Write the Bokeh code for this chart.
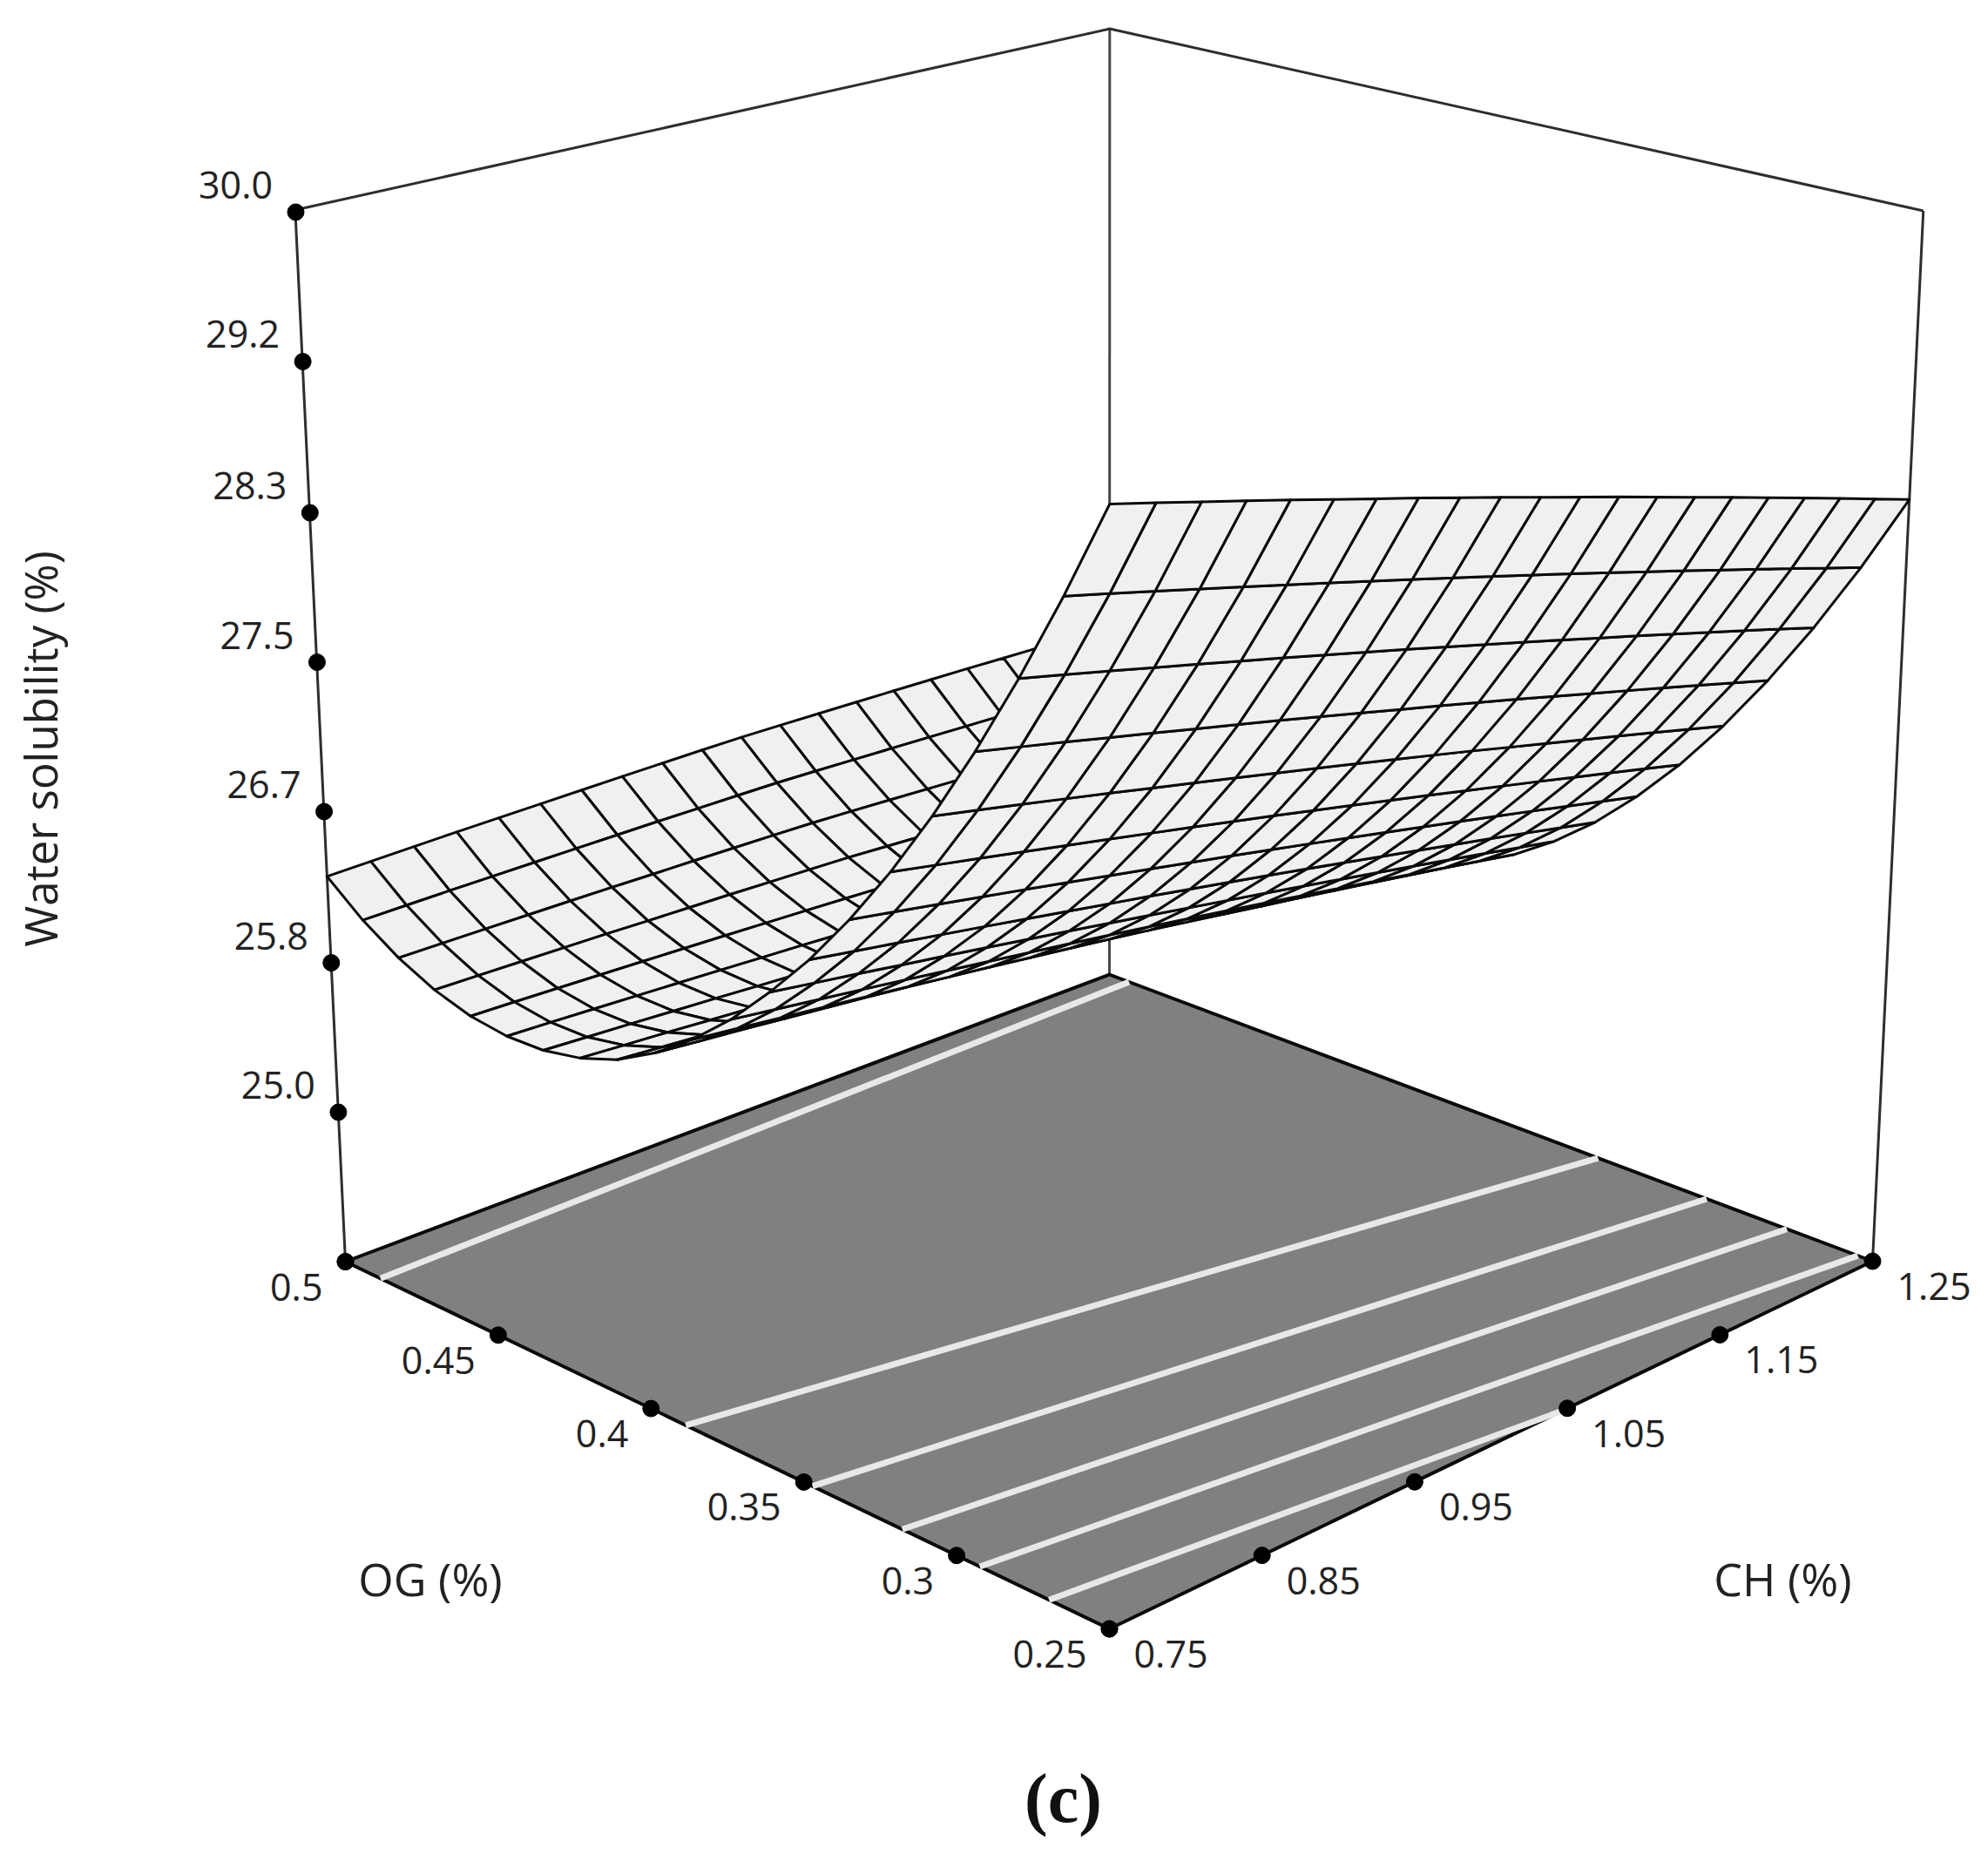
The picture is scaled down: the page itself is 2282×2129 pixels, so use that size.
import numpy as np
from bokeh.plotting import figure
from bokeh.embed import file_html
from bokeh.resources import INLINE
from bokeh.core.properties import value

# ---------- axis values ----------
ch_grid = [0.75 + 0.025 * i for i in range(21)]
og_grid = [0.25 + 0.0125 * i for i in range(21)]
ch_ticks = [0.75, 0.85, 0.95, 1.05, 1.15, 1.25]
ch_labels = ["0.75", "0.85", "0.95", "1.05", "1.15", "1.25"]
og_ticks = [0.25, 0.30, 0.35, 0.40, 0.45, 0.50]
og_labels = ["0.25", "0.3", "0.35", "0.4", "0.45", "0.5"]
z_ticks = [30.0, 29.17, 28.33, 27.5, 26.67, 25.83, 25.0]
z_labels = ["30.0", "29.2", "28.3", "27.5", "26.7", "25.8", "25.0"]
z_floor = 24.17
z_top = 30.0

# ---------- surface heights, one list per OG level, CH rising 0.75 -> 1.25 ----------
z_og_0250 = [29.738,29.679,29.619,29.559,29.499,29.437,29.376,29.315,29.252,29.190,29.126,29.063,28.999,28.934,28.869,28.804,28.738,28.672,28.606,28.538,28.471]
z_og_0263 = [29.242,29.186,29.129,29.072,29.015,28.957,28.898,28.840,28.781,28.721,28.661,28.601,28.540,28.478,28.416,28.354,28.291,28.228,28.165,28.100,28.036]
z_og_0275 = [28.781,28.728,28.675,28.620,28.566,28.511,28.456,28.400,28.344,28.288,28.231,28.173,28.115,28.057,27.998,27.939,27.879,27.819,27.759,27.698,27.636]
z_og_0288 = [28.354,28.304,28.254,28.202,28.151,28.099,28.047,27.995,27.942,27.888,27.834,27.780,27.725,27.670,27.614,27.557,27.501,27.444,27.387,27.329,27.271]
z_og_0300 = [27.962,27.915,27.868,27.820,27.772,27.722,27.673,27.624,27.574,27.524,27.473,27.422,27.370,27.318,27.264,27.211,27.158,27.104,27.050,26.995,26.940]
z_og_0313 = [27.605,27.561,27.517,27.472,27.427,27.381,27.335,27.289,27.242,27.195,27.146,27.098,27.049,27.000,26.950,26.900,26.850,26.799,26.748,26.696,26.644]
z_og_0325 = [27.284,27.243,27.202,27.160,27.118,27.075,27.032,26.989,26.945,26.901,26.856,26.811,26.765,26.719,26.672,26.625,26.578,26.530,26.482,26.433,26.384]
z_og_0338 = [26.996,26.958,26.920,26.881,26.842,26.802,26.762,26.722,26.682,26.641,26.599,26.557,26.514,26.471,26.427,26.383,26.339,26.294,26.249,26.203,26.157]
z_og_0350 = [26.744,26.709,26.674,26.638,26.603,26.566,26.529,26.492,26.454,26.416,26.377,26.338,26.299,26.259,26.218,26.177,26.136,26.094,26.052,26.009,25.967]
z_og_0363 = [26.516,26.485,26.454,26.423,26.391,26.358,26.325,26.292,26.259,26.225,26.190,26.154,26.117,26.080,26.043,26.005,25.967,25.928,25.889,25.850,25.810]
z_og_0375 = [26.324,26.297,26.270,26.243,26.215,26.186,26.157,26.129,26.099,26.069,26.038,26.006,25.972,25.938,25.903,25.869,25.834,25.798,25.762,25.726,25.689]
z_og_0388 = [26.166,26.143,26.121,26.097,26.073,26.049,26.024,25.999,25.973,25.948,25.921,25.891,25.861,25.830,25.798,25.767,25.735,25.702,25.670,25.636,25.602]
z_og_0400 = [26.043,26.024,26.006,25.986,25.966,25.946,25.925,25.905,25.883,25.861,25.839,25.812,25.784,25.757,25.728,25.700,25.671,25.641,25.612,25.581,25.550]
z_og_0413 = [25.965,25.949,25.934,25.917,25.901,25.883,25.866,25.848,25.829,25.811,25.791,25.768,25.743,25.719,25.693,25.667,25.642,25.615,25.589,25.561,25.534]
z_og_0425 = [25.921,25.908,25.896,25.882,25.869,25.854,25.840,25.825,25.810,25.794,25.778,25.757,25.736,25.714,25.692,25.669,25.647,25.623,25.600,25.575,25.551]
z_og_0438 = [25.913,25.904,25.894,25.884,25.873,25.862,25.850,25.839,25.826,25.814,25.800,25.783,25.765,25.746,25.727,25.707,25.688,25.667,25.647,25.625,25.604]
z_og_0450 = [25.939,25.933,25.926,25.919,25.911,25.903,25.895,25.886,25.877,25.867,25.857,25.843,25.827,25.812,25.796,25.779,25.763,25.745,25.728,25.710,25.691]
z_og_0463 = [26.001,25.998,25.994,25.990,25.986,25.980,25.975,25.970,25.963,25.957,25.950,25.938,25.926,25.914,25.900,25.887,25.874,25.859,25.845,25.830,25.814]
z_og_0475 = [26.097,26.097,26.096,26.095,26.094,26.092,26.089,26.087,26.084,26.081,26.076,26.068,26.059,26.049,26.039,26.029,26.019,26.007,25.996,25.984,25.972]
z_og_0488 = [26.227,26.230,26.233,26.234,26.236,26.237,26.238,26.239,26.238,26.238,26.237,26.232,26.225,26.219,26.212,26.205,26.198,26.189,26.181,26.172,26.163]
z_og_0500 = [26.393,26.399,26.405,26.410,26.414,26.418,26.422,26.426,26.429,26.432,26.433,26.431,26.428,26.425,26.421,26.417,26.413,26.407,26.402,26.396,26.390]
surface_rows = [z_og_0250, z_og_0263, z_og_0275, z_og_0288, z_og_0300, z_og_0313, z_og_0325,
                z_og_0338, z_og_0350, z_og_0363, z_og_0375, z_og_0388, z_og_0400, z_og_0413,
                z_og_0425, z_og_0438, z_og_0450, z_og_0463, z_og_0475, z_og_0488, z_og_0500]

# ---------- floor contours: (CH, OG) at each end ----------
contour_start_ch = [0.75, 0.75, 0.75, 0.75, 0.75, 0.75]
contour_start_og = [0.487, 0.3805, 0.3395, 0.3115, 0.288, 0.2675]
contour_end_ch = [1.25, 1.25, 1.25, 1.25, 1.25, 1.03]
contour_end_og = [0.4928, 0.3334, 0.2996, 0.2753, 0.2543, 0.25]

# ---------- camera: where the box corners fall on the page ----------
F, R, L, B = (1273, 1869), (2149, 1447), (396, 1447.5), (1273, 1118)
LT, RT, BT = (339, 243), (2207, 243), (1273, 29)


def unit(ch, og, z):
    return (np.asarray(ch, float) - 0.75) / 0.5, (np.asarray(og, float) - 0.25) / 0.25, (np.asarray(z, float) - z_floor) / (z_top - z_floor)


A, b = [], []
for (u, v), (x, y) in zip([(0, 0), (1, 0), (0, 1), (1, 1)], [F, R, L, B]):
    A.append([u, v, 1, 0, 0, 0, -u * x, -v * x]); b.append(x)
    A.append([0, 0, 0, u, v, 1, -u * y, -v * y]); b.append(y)
h = np.linalg.solve(np.array(A, float), np.array(b, float))
Hx, Hy, Hw = np.array([h[0], h[1], h[2]]), np.array([h[3], h[4], h[5]]), np.array([h[6], h[7], 1.0])
A, b = [], []
for (u, v), (x, y) in zip([(0, 1), (1, 0), (1, 1)], [LT, RT, BT]):
    q = np.array([u, v, 1.0])
    w = Hw @ q
    A.append([1, 0, -x]); b.append(x * w - Hx @ q)
    A.append([0, 1, -y]); b.append(y * w - Hy @ q)
px, py, pw = np.linalg.lstsq(np.array(A, float), np.array(b, float), rcond=None)[0]


def project(ch, og, z):
    u, v, t = unit(ch, og, z)
    w = Hw[0] * u + Hw[1] * v + Hw[2] + pw * t
    return (Hx[0] * u + Hx[1] * v + Hx[2] + px * t) / w, (Hy[0] * u + Hy[1] * v + Hy[2] + py * t) / w, w


def along(start, end, frac):
    """Ticks sit at even spacing along a drawn axis edge."""
    frac = np.asarray(frac, float)
    return start[0] + frac * (end[0] - start[0]), start[1] + frac * (end[1] - start[1])


W, H = 2266, 2113
p = figure(width=W, height=H, x_range=(0, W), y_range=(H, 0), output_backend="svg",
           toolbar_location=None, min_border=0, outline_line_color=None, background_fill_color="white",
           border_fill_color="white")
p.xaxis.visible = False
p.yaxis.visible = False
p.grid.visible = False

EDGE = "#2e2e2e"
# frame
for ch, og, col in [(0.75, 0.5, EDGE), (1.25, 0.25, EDGE), (1.25, 0.5, "#484848")]:
    xs, ys, _ = project([ch, ch], [og, og], [z_floor, z_top])
    p.line(list(xs), list(ys), line_color=col, line_width=3)
xs, ys, _ = project([0.75, 1.25, 1.25], [0.5, 0.5, 0.25], [z_top, z_top, z_top])
p.line(list(xs), list(ys), line_color=EDGE, line_width=3)

# floor
xs, ys, _ = project([0.75, 1.25, 1.25, 0.75], [0.25, 0.25, 0.5, 0.5], [z_floor] * 4)
p.patch(list(xs), list(ys), fill_color="#808080", line_color="#0a0a0a", line_width=4, line_join="round")

# contours
for c0, o0, c1, o1 in zip(contour_start_ch, contour_start_og, contour_end_ch, contour_end_og):
    xs, ys, _ = project([c0, c1], [o0, o1], [z_floor, z_floor])
    p.line(list(xs), list(ys), line_color="#e8e8e8", line_width=7)

# surface, far quads first
Z = np.array(surface_rows)
CH, OG = np.meshgrid(ch_grid, og_grid)
X, Y, D = project(CH, OG, Z)
quads = []
for j in range(20):
    for i in range(20):
        d = (D[j, i] + D[j, i + 1] + D[j + 1, i] + D[j + 1, i + 1]) / 4
        quads.append((d, [X[j, i], X[j, i + 1], X[j + 1, i + 1], X[j + 1, i]], [Y[j, i], Y[j, i + 1], Y[j + 1, i + 1], Y[j + 1, i]]))
quads.sort(key=lambda q: -q[0])
p.patches([q[1] for q in quads], [q[2] for q in quads], fill_color="#f0f0f0", line_color="#0a0a0a", line_width=3, line_join="round")

# ticks, evenly spaced along the axis edges
DOT = 19
FONT = "Open Sans"
TXT = "#222222"
TICK_PX = "43px"
x0, y0 = along((L[0], L[1]), LT, [(z - z_floor) / (z_top - z_floor) for z in z_ticks + [z_floor]])
x1, y1 = along(F, L, [(o - 0.25) / 0.25 for o in og_ticks])
x2, y2 = along(F, R, [(c - 0.75) / 0.5 for c in ch_ticks])
p.scatter(list(x0), list(y0), size=DOT, color="black")
p.scatter(list(x1), list(y1), size=DOT, color="black")
p.scatter(list(x2), list(y2), size=DOT, color="black")

p.text(list(x0[:7] - 69), list(y0[:7] - 31), text=z_labels, text_font=value(FONT), text_font_size=TICK_PX,
       text_color=TXT, text_align="center", text_baseline="middle")
p.text(list(x1 - 26), list(y1 + 29), text=og_labels, text_font=value(FONT), text_font_size=TICK_PX,
       text_color=TXT, text_align="right", text_baseline="middle")
p.text(list(x2 + 28), list(y2 + 29), text=ch_labels, text_font=value(FONT), text_font_size=TICK_PX,
       text_color=TXT, text_align="left", text_baseline="middle")

TITLE_PX = "52px"
p.text([493.5], [1811], text=["OG (%)"], text_font=value(FONT), text_font_size=TITLE_PX, text_color=TXT,
       text_align="center", text_baseline="middle")
p.text([2046], [1811], text=["CH (%)"], text_font=value(FONT), text_font_size=TITLE_PX, text_color=TXT,
       text_align="center", text_baseline="middle")
p.text([45], [859], text=["Water solubility (%)"], text_font=value(FONT), text_font_size="51px", text_color=TXT,
       text_align="center", text_baseline="middle", angle=np.pi / 2)
p.text([1220], [2063], text=["(c)"], text_font=value("Liberation Serif"), text_font_style="bold", text_font_size="80px",
       text_color="#111111", text_align="center", text_baseline="middle")

open("out.html", "w").write(file_html(p, INLINE))
